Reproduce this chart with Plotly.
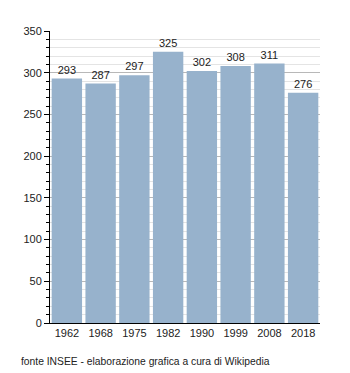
import plotly.graph_objects as go

years = ["1962", "1968", "1975", "1982", "1990", "1999", "2008", "2018"]
population = [293, 287, 297, 325, 302, 308, 311, 276]
source_note = "fonte INSEE - elaborazione grafica a cura di Wikipedia"

fig = go.Figure(
    go.Bar(
        x=years,
        y=population,
        marker=dict(color="#97B2CC", line=dict(width=0)),
        text=[str(v) for v in population],
        textposition="outside",
        textfont=dict(family="Liberation Sans, Arial", size=11, color="#222"),
        cliponaxis=False,
        width=0.9,
    )
)

fig.update_layout(
    width=350,
    height=373,
    margin=dict(l=50, r=30, t=31, b=50),
    paper_bgcolor="white",
    plot_bgcolor="white",
    showlegend=False,
    font=dict(family="Liberation Sans, Arial", size=11, color="#222"),
    bargap=0.1,
    xaxis=dict(
        type="category",
        showline=True,
        linecolor="black",
        linewidth=1,
        ticks="",
        showgrid=False,
        tickfont=dict(size=11),
    ),
    yaxis=dict(
        range=[0, 350],
        tick0=0,
        dtick=50,
        showline=True,
        linecolor="black",
        linewidth=1,
        ticks="outside",
        ticklen=5,
        tickcolor="black",
        showgrid=True,
        gridcolor="#b8b8b8",
        gridwidth=1,
        zeroline=False,
        tickfont=dict(size=11),
        minor=dict(
            dtick=10,
            ticks="outside",
            ticklen=3,
            tickcolor="black",
            showgrid=True,
            gridcolor="#e4e4e4",
            gridwidth=1,
        ),
    ),
)

fig.add_annotation(
    text=source_note,
    xref="paper",
    yref="paper",
    x=0,
    xshift=-31,
    y=0,
    yshift=-38,
    xanchor="left",
    yanchor="middle",
    showarrow=False,
    font=dict(size=10.3, color="#222"),
)

fig.write_html("out.html")
